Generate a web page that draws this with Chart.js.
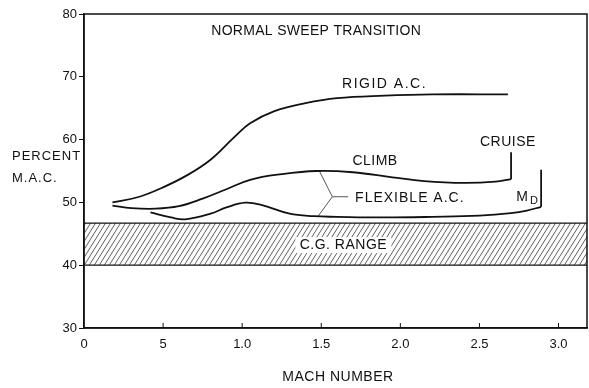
<!DOCTYPE html>
<html>
<head>
<meta charset="utf-8">
<script src="https://cdn.jsdelivr.net/npm/chart.js@4.4.1/dist/chart.umd.min.js"></script>
<style>
  html, body { margin: 0; padding: 0; background: #fff; }
  canvas { display: block; }
</style>
</head>
<body>
<canvas id="graficoCG" width="589" height="388"></canvas>
<script>
// Ejes
const xTickValues = [0, 0.5, 1.0, 1.5, 2.0, 2.5, 3.0];
const xTickLabels = ['0', '5', '1.0', '1.5', '2.0', '2.5', '3.0'];
const yTickValues = [30, 40, 50, 60, 70, 80];
const xMax = 3.18;

// Rango del C.G. (% M.A.C.)
const cgRange = [40, 46.7];

// Avión rígido
const rigidMach = [0.18, 0.35, 0.5, 0.65, 0.8, 0.95, 1.05, 1.2, 1.4, 1.6, 1.9, 2.2, 2.68];
const rigidPct = [50.0, 50.9, 52.4, 54.3, 56.8, 60.4, 62.6, 64.5, 65.8, 66.6, 67.0, 67.2, 67.2];

// Avión flexible, ascenso
const climbMach = [0.18, 0.3, 0.45, 0.6, 0.75, 0.9, 1.05, 1.25, 1.47, 1.7, 1.95, 2.15, 2.4, 2.6, 2.7];
const climbPct = [49.5, 49.1, 49.0, 49.4, 50.6, 52.1, 53.6, 54.5, 55.0, 54.8, 54.0, 53.4, 53.1, 53.3, 53.7];

// Avión flexible, hasta M_D
const flexMach = [0.42, 0.55, 0.64, 0.8, 0.9, 1.02, 1.12, 1.3, 1.45, 1.6, 1.9, 2.2, 2.5, 2.7, 2.8, 2.89];
const flexPct = [48.4, 47.6, 47.3, 48.2, 49.2, 49.95, 49.6, 48.2, 47.8, 47.7, 47.6, 47.7, 47.9, 48.3, 48.7, 49.3];

// Marcas verticales de crucero y M_D
const cruiseMach = [2.70, 2.70];
const cruisePct = [53.7, 58.0];
const mdMach = [2.89, 2.89];
const mdPct = [49.3, 55.2];

// Llave que une las dos curvas flexibles
const bracketMach = [1.49, 1.57, 1.48];
const bracketPct = [54.9, 50.9, 47.8];
const bracketTickMach = [1.57, 1.67];
const bracketTickPct = [50.9, 50.9];

function puntos(xs, ys) {
    return xs.map((v, i) => ({ x: v, y: ys[i] }));
}

// Trama diagonal para la banda del C.G.
function crearTrama() {
    const c = document.createElement('canvas');
    c.width = 10;
    c.height = 16;
    const g = c.getContext('2d');
    g.strokeStyle = '#333';
    g.lineWidth = 0.8;
    for (let a = -10; a <= 10; a += 5) {
        g.beginPath();
        g.moveTo(a, 16);
        g.lineTo(a + 10, 0);
        g.stroke();
    }
    return g.createPattern(c, 'repeat');
}

const curva = {
    borderColor: '#111',
    borderWidth: 1.8,
    pointRadius: 0,
    fill: false,
    tension: 0.4
};

const recta = {
    borderColor: '#111',
    borderWidth: 1.8,
    pointRadius: 0,
    fill: false,
    tension: 0
};

const textosPlugin = {
    id: 'textos',
    afterDatasetsDraw(chart) {
        const { ctx, chartArea, scales: { x, y } } = chart;
        ctx.save();

        // marco
        ctx.strokeStyle = '#111';
        ctx.lineWidth = 1.5;
        ctx.strokeRect(chartArea.left, chartArea.top, chartArea.right - chartArea.left, chartArea.bottom - chartArea.top);

        // marcas del eje x hacia adentro
        ctx.lineWidth = 1;
        xTickValues.forEach(v => {
            if (v === 0) return;
            const px = x.getPixelForValue(v);
            ctx.beginPath();
            ctx.moveTo(px, chartArea.bottom);
            ctx.lineTo(px, chartArea.bottom - 5);
            ctx.stroke();
        });

        ctx.fillStyle = '#111';
        ctx.textBaseline = 'middle';
        ctx.textAlign = 'center';

        function texto(t, mach, pct, size, espacio) {
            ctx.font = size + 'px "Liberation Sans", Arial, sans-serif';
            ctx.letterSpacing = (espacio || 0) + 'px';
            ctx.fillText(t, x.getPixelForValue(mach), y.getPixelForValue(pct));
        }

        // fondo blanco bajo la leyenda del rango
        const cx = x.getPixelForValue(1.64);
        const cy = y.getPixelForValue(43.2);
        ctx.fillStyle = '#fff';
        ctx.fillRect(cx - 48, cy - 8, 96, 16);
        ctx.fillStyle = '#111';

        texto('NORMAL SWEEP TRANSITION', 1.468, 77.3, 14, 0.3);
        texto('RIGID A.C.', 1.90, 68.85, 14, 1.5);
        texto('CRUISE', 2.68, 59.6, 14, 0.5);
        texto('CLIMB', 1.84, 56.6, 14, 0.5);
        texto('FLEXIBLE A.C.', 2.06, 50.7, 14, 1);
        texto('C.G. RANGE', 1.64, 43.2, 14, 0.5);
        texto('M', 2.77, 50.9, 14, 0);
        texto('D', 2.845, 50.3, 11, 0);

        // títulos de los ejes
        ctx.font = '13px "Liberation Sans", Arial, sans-serif';
        ctx.letterSpacing = '1px';
        ctx.textAlign = 'left';
        ctx.fillText('PERCENT', 12, 156);
        ctx.fillText('M.A.C.', 12, 178);
        ctx.textAlign = 'center';
        ctx.font = '14px "Liberation Sans", Arial, sans-serif';
        ctx.letterSpacing = '0.5px';
        ctx.fillText('MACH NUMBER', 338, 377);

        ctx.restore();
    }
};

document.addEventListener('DOMContentLoaded', function () {
    const ctx = document.getElementById('graficoCG').getContext('2d');

    new Chart(ctx, {
        type: 'scatter',
        data: {
            datasets: [
                {
                    data: puntos([0, xMax], [cgRange[1], cgRange[1]]),
                    showLine: true,
                    borderColor: '#111',
                    borderWidth: 1.2,
                    pointRadius: 0,
                    backgroundColor: crearTrama(),
                    fill: { value: cgRange[0] },
                    tension: 0
                },
                {
                    data: puntos([0, xMax], [cgRange[0], cgRange[0]]),
                    showLine: true,
                    borderColor: '#111',
                    borderWidth: 1.2,
                    pointRadius: 0,
                    tension: 0
                },
                { ...curva, data: puntos(rigidMach, rigidPct), showLine: true },
                { ...curva, data: puntos(climbMach, climbPct), showLine: true },
                { ...curva, data: puntos(flexMach, flexPct), showLine: true },
                { ...recta, data: puntos(cruiseMach, cruisePct), showLine: true },
                { ...recta, data: puntos(mdMach, mdPct), showLine: true },
                { ...recta, data: puntos(bracketMach, bracketPct), showLine: true, borderWidth: 0.9, borderColor: '#444' },
                { ...recta, data: puntos(bracketTickMach, bracketTickPct), showLine: true, borderWidth: 0.9, borderColor: '#444' }
            ]
        },
        options: {
            responsive: false,
            animation: false,
            devicePixelRatio: 1,
            layout: {
                padding: { left: 0, right: 2, top: 14, bottom: 0 }
            },
            plugins: {
                legend: { display: false },
                tooltip: { enabled: false }
            },
            scales: {
                x: {
                    type: 'linear',
                    min: 0,
                    max: xMax,
                    afterFit: scale => { scale.height = 60; },
                    afterBuildTicks: scale => {
                        scale.ticks = xTickValues.map(v => ({ value: v }));
                    },
                    grid: { display: false, drawTicks: false },
                    border: { display: true, color: '#111', width: 1.5 },
                    ticks: {
                        padding: 9,
                        color: '#111',
                        font: { family: '"Liberation Sans", Arial, sans-serif', size: 13 },
                        callback: function (value, index) {
                            return xTickLabels[index];
                        }
                    }
                },
                y: {
                    type: 'linear',
                    min: 30,
                    max: 80,
                    afterFit: scale => { scale.width = 84; },
                    afterBuildTicks: scale => {
                        scale.ticks = yTickValues.map(v => ({ value: v }));
                    },
                    grid: {
                        display: true,
                        drawOnChartArea: false,
                        drawTicks: true,
                        tickLength: 5,
                        color: '#111'
                    },
                    border: { display: true, color: '#111', width: 1.5 },
                    ticks: {
                        padding: 2,
                        color: '#111',
                        font: { family: '"Liberation Sans", Arial, sans-serif', size: 13 },
                        callback: function (value) {
                            return String(value);
                        }
                    }
                }
            }
        },
        plugins: [textosPlugin]
    });
});
</script>
</body>
</html>
